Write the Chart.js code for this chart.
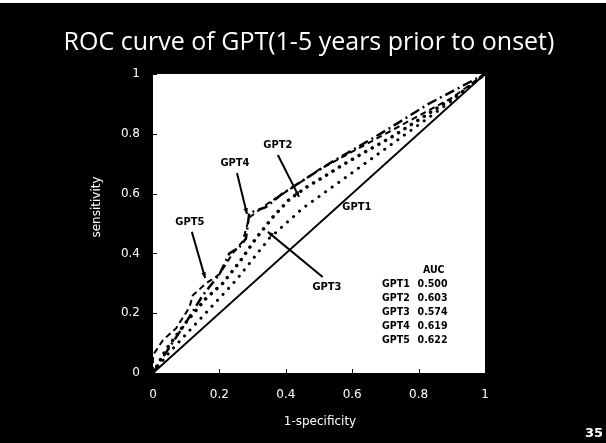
<!DOCTYPE html>
<html><head><meta charset="utf-8">
<script src="https://cdn.jsdelivr.net/npm/chart.js@4/dist/chart.umd.min.js"></script>
<style>html,body{margin:0;padding:0;background:#000;overflow:hidden}#wrap{position:relative;width:606px;height:443px}</style>
</head><body><div id="wrap"><canvas id="c" width="606" height="443"></canvas></div>
<script>
const titleText = 'ROC curve of GPT(1-5 years prior to onset)';
const xTitle = '1-specificity';
const yTitle = 'sensitivity';
const tickLabels = ['0', '0.2', '0.4', '0.6', '0.8', '1'];
const seriesNames = ['GPT1', 'GPT2', 'GPT3', 'GPT4', 'GPT5'];
const aucValues = ['0.500', '0.603', '0.574', '0.619', '0.622'];

const fpr1 = [0, 1];
const tpr1 = [0, 1];
const fpr2 = [0, 0.04, 0.1, 0.16, 0.21, 0.26, 0.31, 0.36, 0.41, 0.46, 0.52, 0.57, 0.64, 0.72, 0.84, 0.92, 1];
const tpr2 = [0, 0.08, 0.17, 0.25, 0.3, 0.37, 0.45, 0.52, 0.58, 0.62, 0.66, 0.695, 0.74, 0.79, 0.875, 0.93, 1];
const fpr3 = [0, 0.05, 0.1, 0.15, 0.2, 0.25, 0.3, 0.35, 0.4, 0.45, 0.5, 0.6, 0.7, 0.8, 0.9, 1];
const tpr3 = [0, 0.07, 0.13, 0.19, 0.25, 0.31, 0.38, 0.45, 0.5, 0.55, 0.59, 0.67, 0.75, 0.83, 0.91, 1];
const fpr4 = [0, 0.04, 0.1, 0.15, 0.2, 0.23, 0.26, 0.28, 0.29, 0.34, 0.39, 0.46, 0.53, 0.6, 0.7, 0.83, 1];
const tpr4 = [0, 0.07, 0.17, 0.26, 0.33, 0.4, 0.42, 0.45, 0.535, 0.555, 0.6, 0.65, 0.7, 0.745, 0.81, 0.9, 1];
const fpr5 = [0, 0, 0.03, 0.07, 0.11, 0.12, 0.16, 0.2, 0.24, 0.27, 0.29, 0.35, 0.42, 0.5, 0.6, 0.7, 0.8, 0.9, 1];
const tpr5 = [0, 0.06, 0.11, 0.15, 0.22, 0.26, 0.3, 0.33, 0.4, 0.44, 0.52, 0.57, 0.62, 0.68, 0.74, 0.8, 0.86, 0.92, 1];

// annotation labels (data space) and arrow lines
const labelX = [0.614, 0.376, 0.524, 0.247, 0.111];
const labelY = [0.555, 0.763, 0.288, 0.702, 0.505];
const arrowFrom = [null, [0.376, 0.729], [0.511, 0.321], [0.253, 0.669], [0.117, 0.472]];
const arrowTo = [null, [0.440, 0.589], [0.346, 0.472], [0.283, 0.532], [0.157, 0.318]];

function pts(xs, ys) { return xs.map((x, i) => ({ x: x, y: ys[i] })); }

const styles = [
  { borderWidth: 2, borderDash: [], borderCapStyle: 'butt' },
  { borderWidth: 3.5, borderDash: [0.1, 7.5], borderCapStyle: 'round' },
  { borderWidth: 3, borderDash: [0.1, 8], borderCapStyle: 'round' },
  { borderWidth: 2.5, borderDash: [10, 4, 2, 4], borderCapStyle: 'butt' },
  { borderWidth: 2, borderDash: [6, 4], borderCapStyle: 'butt' }
];
const allX = [fpr1, fpr2, fpr3, fpr4, fpr5];
const allY = [tpr1, tpr2, tpr3, tpr4, tpr5];

const datasets = seriesNames.map((n, i) => Object.assign({
  label: n,
  data: pts(allX[i], allY[i]),
  showLine: true,
  borderColor: '#000',
  pointRadius: 0,
  tension: 0,
  fill: false
}, styles[i]));

const deco = {
  id: 'deco',
  beforeDraw(chart) {
    const ctx = chart.ctx, a = chart.chartArea;
    ctx.save();
    ctx.fillStyle = '#000';
    ctx.fillRect(0, 0, chart.width, chart.height);
    ctx.fillStyle = '#fff';
    ctx.fillRect(0, 0, chart.width, 3);
    ctx.fillRect(a.left, a.top, a.right - a.left, a.bottom - a.top);
    ctx.restore();
  },
  afterDraw(chart) {
    const ctx = chart.ctx, a = chart.chartArea;
    const xs = chart.scales.x, ys = chart.scales.y;
    ctx.save();
    ctx.strokeStyle = '#000';
    ctx.lineWidth = 1;
    xs.ticks.forEach(t => {
      const px = Math.round(xs.getPixelForValue(t.value)) + 0.5;
      ctx.beginPath(); ctx.moveTo(px, a.bottom); ctx.lineTo(px, a.bottom - 4); ctx.stroke();
    });
    ys.ticks.forEach(t => {
      const py = Math.round(ys.getPixelForValue(t.value)) + 0.5;
      ctx.beginPath(); ctx.moveTo(a.left, py); ctx.lineTo(a.left + 4, py); ctx.stroke();
    });
    ctx.fillStyle = '#fff';
    ctx.font = '25px "Open Sans"';
    ctx.textAlign = 'center';
    ctx.textBaseline = 'middle';
    ctx.fillText(titleText, 309, 43);
    ctx.font = '12px "DejaVu Sans"';
    ctx.fillText(xTitle, (a.left + a.right) / 2 + 1, 422);
    ctx.save();
    ctx.translate(97, 207);
    ctx.rotate(-Math.PI / 2);
    ctx.fillText(yTitle, 0, 0);
    ctx.restore();
    ctx.font = 'bold 13px "DejaVu Sans"';
    ctx.fillText('35', 594, 434);
    ctx.fillStyle = '#000';
    ctx.strokeStyle = '#000';
    ctx.font = 'bold 11px "DejaVu Sans Condensed", "DejaVu Sans"';
    seriesNames.forEach((n, i) => {
      ctx.fillText(n, xs.getPixelForValue(labelX[i]), ys.getPixelForValue(labelY[i]));
      if (arrowFrom[i]) {
        const x0 = xs.getPixelForValue(arrowFrom[i][0]), y0 = ys.getPixelForValue(arrowFrom[i][1]);
        const x1 = xs.getPixelForValue(arrowTo[i][0]), y1 = ys.getPixelForValue(arrowTo[i][1]);
        ctx.lineWidth = 2;
        ctx.beginPath(); ctx.moveTo(x0, y0); ctx.lineTo(x1, y1); ctx.stroke();
        const ang = Math.atan2(y1 - y0, x1 - x0);
        ctx.beginPath();
        ctx.moveTo(x1, y1);
        ctx.lineTo(x1 - 6 * Math.cos(ang - 0.4), y1 - 6 * Math.sin(ang - 0.4));
        ctx.lineTo(x1 - 6 * Math.cos(ang + 0.4), y1 - 6 * Math.sin(ang + 0.4));
        ctx.closePath(); ctx.fill();
      }
    });
    ctx.font = 'bold 10.5px "DejaVu Sans Condensed", "DejaVu Sans"';
    const nameX = xs.getPixelForValue(0.69), valX = xs.getPixelForValue(0.887);
    ctx.textAlign = 'right';
    ctx.fillText('AUC', valX - 3, ys.getPixelForValue(0.344));
    const rowY = [0.298, 0.251, 0.204, 0.157, 0.110];
    seriesNames.forEach((n, i) => {
      const py = ys.getPixelForValue(rowY[i]);
      ctx.textAlign = 'left';
      ctx.fillText(n, nameX, py);
      ctx.textAlign = 'right';
      ctx.fillText(aucValues[i], valX, py);
    });
    ctx.restore();
  }
};

new Chart(document.getElementById('c'), {
  type: 'scatter',
  data: { datasets: datasets },
  options: {
    responsive: false,
    animation: false,
    devicePixelRatio: 1,
    layout: { padding: { left: 0, right: 121, top: 74, bottom: 0 } },
    plugins: { legend: { display: false }, tooltip: { enabled: false } },
    scales: {
      x: {
        type: 'linear', min: 0, max: 1,
        grid: { display: false, drawTicks: false },
        border: { display: false },
        ticks: { stepSize: 0.2, color: '#fff', padding: 15, font: { family: 'DejaVu Sans', size: 12 },
                 callback: (v, i) => tickLabels[i] },
        afterFit: s => { s.height = 70; }
      },
      y: {
        type: 'linear', min: 0, max: 1,
        grid: { display: false, drawTicks: false },
        border: { display: false },
        ticks: { stepSize: 0.2, color: '#fff', padding: 13, font: { family: 'DejaVu Sans', size: 12 },
                 callback: (v, i) => tickLabels[i] },
        afterFit: s => { s.width = 153; }
      }
    }
  },
  plugins: [deco]
});
</script></body></html>
